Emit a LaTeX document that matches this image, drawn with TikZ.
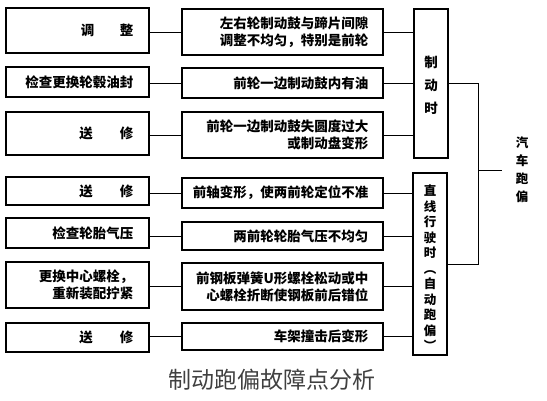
\documentclass[tikz,border=0pt]{standalone}
\usepackage{fontspec}
\setmainfont{Noto Sans CJK SC}
\begin{document}
\begin{tikzpicture}[x=1pt,y=-1pt,
  box/.style={draw, line width=1.2pt, inner sep=0pt, minimum width=#1},
  lbox/.style={box=143pt},
  mbox/.style={box=201pt},
  cbox/.style={box=34pt},
  txt/.style={font=\fontsize{13.5}{17}\selectfont\bfseries, align=right, anchor=east, inner sep=0pt},
  vtxt/.style={font=\fontsize{13.5}{#1}\selectfont\bfseries, align=center, inner sep=0pt},
  link/.style={line width=1pt}]
\useasboundingbox (0,0) rectangle (547,400);
% remedy boxes (left)
\node[lbox, minimum height=45pt] (l1) at (77.5,30.5) {};
\node[lbox, minimum height=30pt] (l2) at (77.5,82) {};
\node[lbox, minimum height=43pt] (l3) at (77.5,133.5) {};
\node[lbox, minimum height=28pt] (l4) at (77.5,191) {};
\node[lbox, minimum height=30pt] (l5) at (77.5,233) {};
\node[lbox, minimum height=46pt] (l6) at (77.5,285) {};
\node[lbox, minimum height=29pt] (l7) at (77.5,337.5) {};
\node[txt] (tl1) at ([xshift=-16pt]l1.east) {调\hspace{1.9em}整};
\node[txt] (tl2) at ([xshift=-16pt]l2.east) {检查更换轮毂油封};
\node[txt] (tl3) at ([xshift=-16pt]l3.east) {送\hspace{2em}修};
\node[txt] (tl4) at ([xshift=-16pt]l4.east) {送\hspace{2em}修};
\node[txt] (tl5) at ([xshift=-16pt]l5.east) {检查轮胎气压};
\node[txt] (tl6) at ([xshift=-16pt]l6.east) {更换中心螺栓，\\重新装配拧紧};
\node[txt] (tl7) at ([xshift=-16pt]l7.east) {送\hspace{2em}修};
% cause boxes (middle)
\node[mbox, minimum height=46pt] (m1) at (282.5,32) {};
\node[mbox, minimum height=30pt] (m2) at (282.5,83) {};
\node[mbox, minimum height=46pt] (m3) at (282.5,135) {};
\node[mbox, minimum height=30pt] (m4) at (282.5,193) {};
\node[mbox, minimum height=28pt] (m5) at (282.5,236) {};
\node[mbox, minimum height=47pt] (m6) at (282.5,286.5) {};
\node[mbox, minimum height=27pt] (m7) at (282.5,336.5) {};
\node[txt] (tm1) at ([xshift=-15pt]m1.east) {左右轮制动鼓与蹄片间隙\\调整不均匀，特别是前轮};
\node[txt] (tm2) at ([xshift=-15pt]m2.east) {前轮一边制动鼓内有油};
\node[txt] (tm3) at ([xshift=-15pt]m3.east) {前轮一边制动鼓失圆度过大\\或制动盘变形};
\node[txt] (tm4) at ([xshift=-15pt]m4.east) {前轴变形，使两前轮定位不准};
\node[txt] (tm5) at ([xshift=-15pt]m5.east) {两前轮轮胎气压不均匀};
\node[txt] (tm6) at ([xshift=-15pt]m6.east) {前钢板弹簧U形螺栓松动或中\\心螺栓折断使钢板前后错位};
\node[txt] (tm7) at ([xshift=-15pt]m7.east) {车架撞击后变形};
% category boxes
\node[cbox, minimum height=149pt] (c1) at (431,83.5) {};
\node[cbox, minimum height=182pt] (c2) at (430,264) {};
\node[vtxt=23] (tc1) at (431,85) {制\\动\\时};
\node[vtxt=15.5, font=\fontsize{12.5}{15.5}\selectfont\bfseries] (tc2) at (430,268) {直\\线\\行\\驶\\时\\︵\\自\\动\\跑\\偏\\︶};
% root
\node[vtxt=18, font=\fontsize{12.5}{18}\selectfont\bfseries] (root) at (522,170) {汽\\车\\跑\\偏};
% connectors
\foreach \i in {1,...,7}{
  \draw[link] (m\i.west) -- (m\i.west -| l\i.east);
}
\foreach \i in {1,2,3}{
  \draw[link] (m\i.east) -- (m\i.east -| c1.west);
}
\foreach \i in {4,5,6,7}{
  \draw[link] (m\i.east) -- (m\i.east -| c2.west);
}
\coordinate (bx) at (478,170);
\coordinate (bt) at (502,170);
\draw[link] (c1.east) -- (c1.east -| bx) -- (c2.east -| bx) -- (c2.east);
\draw[link] (bx) -- (bt);
% caption
\node[font=\fontsize{23}{26}\selectfont, text=black!75, inner sep=0pt] (cap) at (272,380) {制动跑偏故障点分析};
\end{tikzpicture}
\end{document}
